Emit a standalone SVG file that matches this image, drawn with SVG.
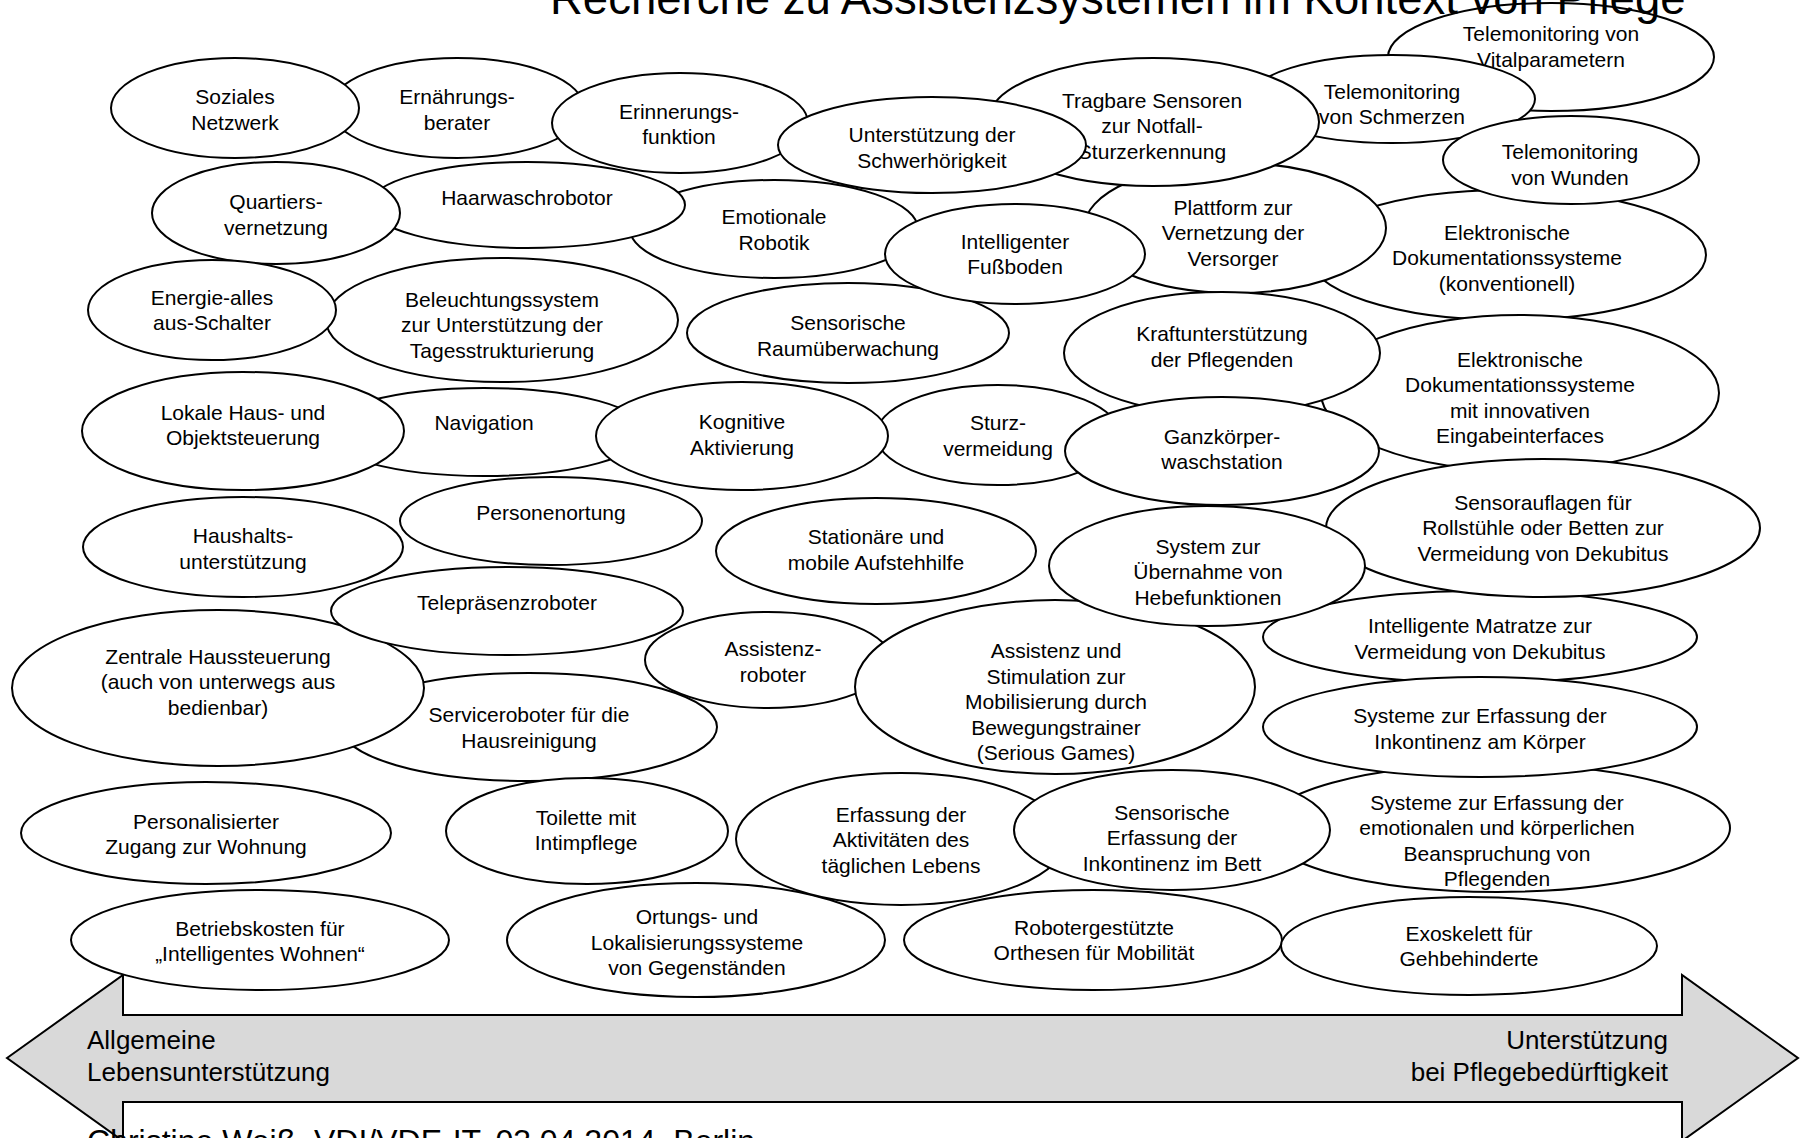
<svg xmlns="http://www.w3.org/2000/svg" width="1802" height="1138" viewBox="0 0 1802 1138">
<style>
.n ellipse{fill:#fff;stroke:#000;stroke-width:2}
.n text{font-family:"Liberation Sans",Arial,sans-serif;font-size:21px;fill:#000;text-anchor:middle}
.lbl{font-family:"Liberation Sans",Arial,sans-serif;font-size:26px;fill:#000}
.title{font-family:"Liberation Sans",Arial,sans-serif;font-size:45.5px;fill:#000}
.foot{font-family:"Liberation Sans",Arial,sans-serif;font-size:32px;fill:#000}
</style>
<rect width="1802" height="1138" fill="#fff"/>
<g id="connectors">
<polygon id="axis-arrow" points="7,1058 123,975 123,1015 1682,1015 1682,975 1798,1058 1682,1141 1682,1102 123,1102 123,1141" fill="#d9d9d9" stroke="#000" stroke-width="2"/>
</g>
<g id="nodes">
<g id="n-vital" class="n"><ellipse cx="1551" cy="57" rx="163" ry="54"/><text x="1551" y="41.25"><tspan x="1551">Telemonitoring von</tspan><tspan x="1551" dy="25.5">Vitalparametern</tspan></text></g>
<g id="n-schmerzen" class="n"><ellipse cx="1392" cy="99" rx="143" ry="44"/><text x="1392" y="98.75"><tspan x="1392">Telemonitoring</tspan><tspan x="1392" dy="25.5">von Schmerzen</tspan></text></g>
<g id="n-elekkonv" class="n"><ellipse cx="1507" cy="255" rx="199" ry="65"/><text x="1507" y="239.5"><tspan x="1507">Elektronische</tspan><tspan x="1507" dy="25.5">Dokumentationssysteme</tspan><tspan x="1507" dy="25.5">(konventionell)</tspan></text></g>
<g id="n-plattform" class="n"><ellipse cx="1235" cy="228" rx="151" ry="65"/><text x="1233" y="214.5"><tspan x="1233">Plattform zur</tspan><tspan x="1233" dy="25.5">Vernetzung der</tspan><tspan x="1233" dy="25.5">Versorger</tspan></text></g>
<g id="n-tragbare" class="n"><ellipse cx="1153" cy="122" rx="166" ry="64"/><text x="1152" y="107.5"><tspan x="1152">Tragbare Sensoren</tspan><tspan x="1152" dy="25.5">zur Notfall-</tspan><tspan x="1152" dy="25.5">Sturzerkennung</tspan></text></g>
<g id="n-wunden" class="n"><ellipse cx="1571" cy="160" rx="128" ry="44"/><text x="1570" y="159.25"><tspan x="1570">Telemonitoring</tspan><tspan x="1570" dy="25.5">von Wunden</tspan></text></g>
<g id="n-elekinnov" class="n"><ellipse cx="1520" cy="393" rx="199" ry="78"/><text x="1520" y="366.75"><tspan x="1520">Elektronische</tspan><tspan x="1520" dy="25.5">Dokumentationssysteme</tspan><tspan x="1520" dy="25.5">mit innovativen</tspan><tspan x="1520" dy="25.5">Eingabeinterfaces</tspan></text></g>
<g id="n-kraft" class="n"><ellipse cx="1222" cy="353" rx="158" ry="61"/><text x="1222" y="341.25"><tspan x="1222">Kraftunterstützung</tspan><tspan x="1222" dy="25.5">der Pflegenden</tspan></text></g>
<g id="n-matratze" class="n"><ellipse cx="1480" cy="637" rx="217" ry="46"/><text x="1480" y="633.25"><tspan x="1480">Intelligente Matratze zur</tspan><tspan x="1480" dy="25.5">Vermeidung von Dekubitus</tspan></text></g>
<g id="n-sensorauflagen" class="n"><ellipse cx="1543" cy="528" rx="217" ry="69"/><text x="1543" y="509.5"><tspan x="1543">Sensorauflagen für</tspan><tspan x="1543" dy="25.5">Rollstühle oder Betten zur</tspan><tspan x="1543" dy="25.5">Vermeidung von Dekubitus</tspan></text></g>
<g id="n-sturz" class="n"><ellipse cx="998" cy="435" rx="122" ry="50"/><text x="998" y="430.25"><tspan x="998">Sturz-</tspan><tspan x="998" dy="25.5">vermeidung</tspan></text></g>
<g id="n-ganzkoerper" class="n"><ellipse cx="1222" cy="451" rx="157" ry="54"/><text x="1222" y="443.75"><tspan x="1222">Ganzkörper-</tspan><tspan x="1222" dy="25.5">waschstation</tspan></text></g>
<g id="n-serviceroboter" class="n"><ellipse cx="529" cy="727" rx="188" ry="54"/><text x="529" y="722.25"><tspan x="529">Serviceroboter für die</tspan><tspan x="529" dy="25.5">Hausreinigung</tspan></text></g>
<g id="n-zentrale" class="n"><ellipse cx="218" cy="688" rx="206" ry="78"/><text x="218" y="663.5"><tspan x="218">Zentrale Haussteuerung</tspan><tspan x="218" dy="25.5">(auch von unterwegs aus</tspan><tspan x="218" dy="25.5">bedienbar)</tspan></text></g>
<g id="n-assistenzroboter" class="n"><ellipse cx="768" cy="660" rx="123" ry="48"/><text x="773" y="656.25"><tspan x="773">Assistenz-</tspan><tspan x="773" dy="25.5">roboter</tspan></text></g>
<g id="n-assiststim" class="n"><ellipse cx="1055" cy="687" rx="200" ry="87"/><text x="1056" y="658"><tspan x="1056">Assistenz und</tspan><tspan x="1056" dy="25.5">Stimulation zur</tspan><tspan x="1056" dy="25.5">Mobilisierung durch</tspan><tspan x="1056" dy="25.5">Bewegungstrainer</tspan><tspan x="1056" dy="25.5">(Serious Games)</tspan></text></g>
<g id="n-system" class="n"><ellipse cx="1207" cy="566" rx="158" ry="60"/><text x="1208" y="553.5"><tspan x="1208">System zur</tspan><tspan x="1208" dy="25.5">Übernahme von</tspan><tspan x="1208" dy="25.5">Hebefunktionen</tspan></text></g>
<g id="n-beanspruchung" class="n"><ellipse cx="1497" cy="828" rx="233" ry="64"/><text x="1497" y="809.75"><tspan x="1497">Systeme zur Erfassung der</tspan><tspan x="1497" dy="25.5">emotionalen und körperlichen</tspan><tspan x="1497" dy="25.5">Beanspruchung von</tspan><tspan x="1497" dy="25.5">Pflegenden</tspan></text></g>
<g id="n-koerper" class="n"><ellipse cx="1480" cy="727" rx="217" ry="50"/><text x="1480" y="723.25"><tspan x="1480">Systeme zur Erfassung der</tspan><tspan x="1480" dy="25.5">Inkontinenz am Körper</tspan></text></g>
<g id="n-ortungs" class="n"><ellipse cx="696" cy="940" rx="189" ry="57"/><text x="697" y="924"><tspan x="697">Ortungs- und</tspan><tspan x="697" dy="25.5">Lokalisierungssysteme</tspan><tspan x="697" dy="25.5">von Gegenständen</tspan></text></g>
<g id="n-erfassung" class="n"><ellipse cx="901" cy="839" rx="165" ry="66"/><text x="901" y="821.5"><tspan x="901">Erfassung der</tspan><tspan x="901" dy="25.5">Aktivitäten des</tspan><tspan x="901" dy="25.5">täglichen Lebens</tspan></text></g>
<g id="n-sensorische" class="n"><ellipse cx="1172" cy="830" rx="158" ry="60"/><text x="1172" y="819.5"><tspan x="1172">Sensorische</tspan><tspan x="1172" dy="25.5">Erfassung der</tspan><tspan x="1172" dy="25.5">Inkontinenz im Bett</tspan></text></g>
<g id="n-navigation" class="n"><ellipse cx="484" cy="432" rx="162" ry="44"/><text x="484" y="430">Navigation</text></g>
<g id="n-lokale" class="n"><ellipse cx="243" cy="431" rx="161" ry="59"/><text x="243" y="419.75"><tspan x="243">Lokale Haus- und</tspan><tspan x="243" dy="25.5">Objektsteuerung</tspan></text></g>
<g id="n-kognitive" class="n"><ellipse cx="742" cy="436" rx="146" ry="54"/><text x="742" y="429.25"><tspan x="742">Kognitive</tspan><tspan x="742" dy="25.5">Aktivierung</tspan></text></g>
<g id="n-ernaehrung" class="n"><ellipse cx="457" cy="108" rx="127" ry="50"/><text x="457" y="104.25"><tspan x="457">Ernährungs-</tspan><tspan x="457" dy="25.5">berater</tspan></text></g>
<g id="n-soziales" class="n"><ellipse cx="235" cy="108" rx="124" ry="50"/><text x="235" y="104.25"><tspan x="235">Soziales</tspan><tspan x="235" dy="25.5">Netzwerk</tspan></text></g>
<g id="n-erinnerung" class="n"><ellipse cx="680" cy="123" rx="128" ry="50"/><text x="679" y="118.75"><tspan x="679">Erinnerungs-</tspan><tspan x="679" dy="25.5">funktion</tspan></text></g>
<g id="n-unterstuetzung" class="n"><ellipse cx="932" cy="145" rx="154" ry="48"/><text x="932" y="142.25"><tspan x="932">Unterstützung der</tspan><tspan x="932" dy="25.5">Schwerhörigkeit</tspan></text></g>
<g id="n-raum" class="n"><ellipse cx="848" cy="333" rx="161" ry="50"/><text x="848" y="330.25"><tspan x="848">Sensorische</tspan><tspan x="848" dy="25.5">Raumüberwachung</tspan></text></g>
<g id="n-emotionale" class="n"><ellipse cx="774" cy="229" rx="144" ry="49"/><text x="774" y="224.25"><tspan x="774">Emotionale</tspan><tspan x="774" dy="25.5">Robotik</tspan></text></g>
<g id="n-haarwasch" class="n"><ellipse cx="527" cy="205" rx="158" ry="43"/><text x="527" y="205">Haarwaschrobotor</text></g>
<g id="n-quartiers" class="n"><ellipse cx="276" cy="213" rx="124" ry="51"/><text x="276" y="209.25"><tspan x="276">Quartiers-</tspan><tspan x="276" dy="25.5">vernetzung</tspan></text></g>
<g id="n-intelligenter" class="n"><ellipse cx="1015" cy="254" rx="130" ry="50"/><text x="1015" y="248.75"><tspan x="1015">Intelligenter</tspan><tspan x="1015" dy="25.5">Fußboden</tspan></text></g>
<g id="n-beleuchtung" class="n"><ellipse cx="502" cy="320" rx="176" ry="62"/><text x="502" y="306.5"><tspan x="502">Beleuchtungssystem</tspan><tspan x="502" dy="25.5">zur Unterstützung der</tspan><tspan x="502" dy="25.5">Tagesstrukturierung</tspan></text></g>
<g id="n-energie" class="n"><ellipse cx="212" cy="310" rx="124" ry="50"/><text x="212" y="304.75"><tspan x="212">Energie-alles</tspan><tspan x="212" dy="25.5">aus-Schalter</tspan></text></g>
<g id="n-telepraesenz" class="n"><ellipse cx="507" cy="611" rx="176" ry="44"/><text x="507" y="610">Telepräsenzroboter</text></g>
<g id="n-personenortung" class="n"><ellipse cx="551" cy="521" rx="151" ry="44"/><text x="551" y="520">Personenortung</text></g>
<g id="n-haushalts" class="n"><ellipse cx="243" cy="547" rx="160" ry="50"/><text x="243" y="543.25"><tspan x="243">Haushalts-</tspan><tspan x="243" dy="25.5">unterstützung</tspan></text></g>
<g id="n-stationaere" class="n"><ellipse cx="876" cy="551" rx="160" ry="53"/><text x="876" y="544.25"><tspan x="876">Stationäre und</tspan><tspan x="876" dy="25.5">mobile Aufstehhilfe</tspan></text></g>
<g id="n-personalisiert" class="n"><ellipse cx="206" cy="833" rx="185" ry="51"/><text x="206" y="828.75"><tspan x="206">Personalisierter</tspan><tspan x="206" dy="25.5">Zugang zur Wohnung</tspan></text></g>
<g id="n-betriebskosten" class="n"><ellipse cx="260" cy="940" rx="189" ry="50"/><text x="260" y="935.75"><tspan x="260">Betriebskosten für</tspan><tspan x="260" dy="25.5">„Intelligentes Wohnen“</tspan></text></g>
<g id="n-toilette" class="n"><ellipse cx="587" cy="831" rx="141" ry="53"/><text x="586" y="824.75"><tspan x="586">Toilette mit</tspan><tspan x="586" dy="25.5">Intimpflege</tspan></text></g>
<g id="n-robotergestuetzt" class="n"><ellipse cx="1093" cy="940" rx="189" ry="50"/><text x="1094" y="934.75"><tspan x="1094">Robotergestützte</tspan><tspan x="1094" dy="25.5">Orthesen für Mobilität</tspan></text></g>
<g id="n-exoskelett" class="n"><ellipse cx="1469" cy="946" rx="188" ry="49"/><text x="1469" y="940.75"><tspan x="1469">Exoskelett für</tspan><tspan x="1469" dy="25.5">Gehbehinderte</tspan></text></g>
</g>
<g id="axis-labels">
<text class="lbl" x="87" y="1049"><tspan x="87">Allgemeine</tspan><tspan x="87" dy="32">Lebensunterstützung</tspan></text>
<text class="lbl" x="1668" y="1049" text-anchor="end"><tspan x="1668">Unterstützung</tspan><tspan x="1668" dy="32">bei Pflegebedürftigkeit</tspan></text>
</g>
<text id="title" class="title" x="550" y="14">Recherche zu Assistenzsystemen im Kontext von Pflege</text>
<text id="footer" class="foot" x="87" y="1152">Christine Weiß, VDI/VDE-IT, 03.04.2014, Berlin</text>
</svg>
